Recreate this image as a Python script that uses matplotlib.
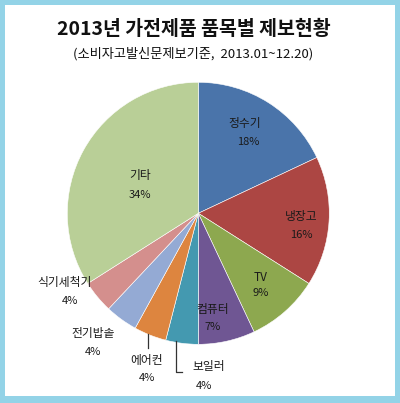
import matplotlib
matplotlib.use("Agg")
import matplotlib.pyplot as plt
from matplotlib.patches import Rectangle

plt.rcParams['font.family'] = ['Noto Sans CJK KR', 'DejaVu Sans']

# ---- data ----
categories = ['정수기', '냉장고', 'TV', '컴퓨터', '보일러', '에어컨', '전기밥솥', '식기세척기', '기타']
values = [18, 16, 9, 7, 4, 4, 4, 4, 34]
pct_labels = ['18%', '16%', '9%', '7%', '4%', '4%', '4%', '4%', '34%']
title = '2013년 가전제품 품목별 제보현황'
subtitle = '(소비자고발신문제보기준,  2013.01~12.20)'

# ---- style / layout ----
colors = ['#4A74AA', '#AC4643', '#8DA84F', '#6F5693', '#4499B0',
          '#DD853F', '#94AAD4', '#D48F8D', '#B9CF97']
# label positions (name, percent) in pie units (radius = 1)
label_pos = [
    ((0.355, 0.689), (0.385, 0.545)),
    ((0.789, -0.026), (0.789, -0.166)),
    ((0.479, -0.492), (0.479, -0.608)),
    ((0.112, -0.731), (0.112, -0.868)),
    ((0.080, -1.173), (0.040, -1.318)),
    ((-0.392, -1.127), (-0.392, -1.257)),
    ((-0.804, -0.914), (-0.804, -1.059)),
    ((-1.018, -0.530), (-0.979, -0.669)),
    ((-0.445, 0.285), (-0.445, 0.140)),
]

W, H = 400, 403
fig = plt.figure(figsize=(W / 100, H / 100), dpi=100)
fig.patch.set_facecolor('#93D3E7')
fig.patches.append(Rectangle((5 / W, 7 / H), 390 / W, 391 / H,
                             transform=fig.transFigure, facecolor='white',
                             edgecolor='none', zorder=-10))

cx, cy, R = 198.3, 213.3, 131
ax = fig.add_axes([(cx - R) / W, (H - cy - R) / H, 2 * R / W, 2 * R / H])
ax.set_zorder(1)
ax.patch.set_visible(False)

ax.pie(values, colors=colors, startangle=90, counterclock=False, radius=1,
       wedgeprops=dict(edgecolor='white', linewidth=0.4))
ax.set_xlim(-1, 1)
ax.set_ylim(-1, 1)
ax.axis('off')

for cat, pct, (npos, ppos) in zip(categories, pct_labels, label_pos):
    ax.text(npos[0], npos[1], cat, ha='center', va='center', fontsize=8.5,
            color='#1a1a1a', clip_on=False)
    ax.text(ppos[0], ppos[1], pct, ha='center', va='center', fontsize=8,
            color='#1a1a1a', clip_on=False)

# leader lines
ax.plot([-0.386, -0.386], [-0.92, -1.03], color='#333333', lw=0.9, clip_on=False)
ax.plot([-0.170, -0.170, -0.127], [-0.975, -1.209, -1.209], color='#333333',
        lw=0.9, clip_on=False)

fig.text(194 / W, 1 - 29 / H, title, ha='center', va='center', fontsize=14,
         color='#111111', fontweight='bold')
fig.text(193 / W, 1 - 54 / H, subtitle, ha='center', va='center', fontsize=9.5,
         color='#111111')

fig.savefig('out.png', dpi=100, facecolor=fig.get_facecolor())
